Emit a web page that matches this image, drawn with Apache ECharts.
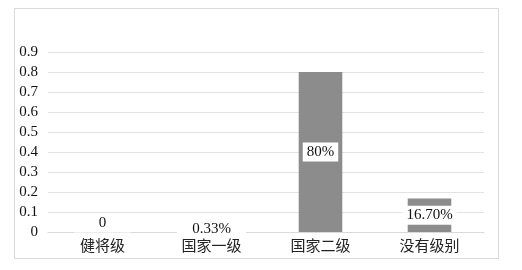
<!DOCTYPE html>
<html>
<head>
<meta charset="utf-8">
<script src="https://cdn.jsdelivr.net/npm/echarts@6/dist/echarts.min.js"></script>
<style>
html,body{margin:0;padding:0;background:#fff;}
#c{width:522px;height:270px;}
</style>
</head>
<body>
<div id="c"></div>
<script>
const categories = ['健将级', '国家一级', '国家二级', '没有级别'];
const values = [0, 0.0033, 0.8, 0.167];
const labels = ['0', '0.33%', '80%', '16.70%'];
const yTicks = { min: 0, max: 0.9, interval: 0.1 };

const FONT = '"Liberation Serif", "Times New Roman", "Noto Sans CJK SC", serif';
const labelTweaks = [
  { offset: [0, -9], padding: [2, 25] },
  { offset: [0, -3], padding: [2, 15] },
  {},
  {}
];

const chart = echarts.init(document.getElementById('c'), null, { renderer: 'canvas' });
chart.setOption({
  animation: false,
  backgroundColor: '#fff',
  graphic: [{
    type: 'rect',
    shape: { x: 14.5, y: 8.5, width: 484, height: 250 },
    style: { fill: 'none', stroke: '#d9d9d9', lineWidth: 1 },
    silent: true
  }],
  grid: { left: 48, right: 38, top: 52, bottom: 38 },
  xAxis: {
    type: 'category',
    data: categories,
    axisLine: { show: true, lineStyle: { color: '#d9d9d9' } },
    axisTick: { show: false },
    axisLabel: { margin: 8, fontSize: 15, color: '#222', fontFamily: FONT }
  },
  yAxis: {
    type: 'value',
    min: yTicks.min,
    max: yTicks.max,
    interval: yTicks.interval,
    axisLine: { show: false },
    axisTick: { show: false },
    splitLine: { lineStyle: { color: '#e3e3e3' } },
    axisLabel: { margin: 10, fontSize: 15, color: '#111', fontFamily: FONT,
      formatter: v => (Math.round(v * 10) / 10).toString() }
  },
  series: [{
    type: 'bar',
    barCategoryGap: '60%',
    itemStyle: { color: '#8c8c8c' },
    data: values.map((v, i) => ({
      value: v,
      label: Object.assign({}, labelTweaks[i])
    })),
    label: {
      show: true,
      position: 'inside',
      formatter: p => labels[p.dataIndex],
      fontSize: 15,
      color: '#111',
      fontFamily: FONT,
      backgroundColor: '#fff',
      padding: [2, 4]
    }
  }]
});
</script>
</body>
</html>
